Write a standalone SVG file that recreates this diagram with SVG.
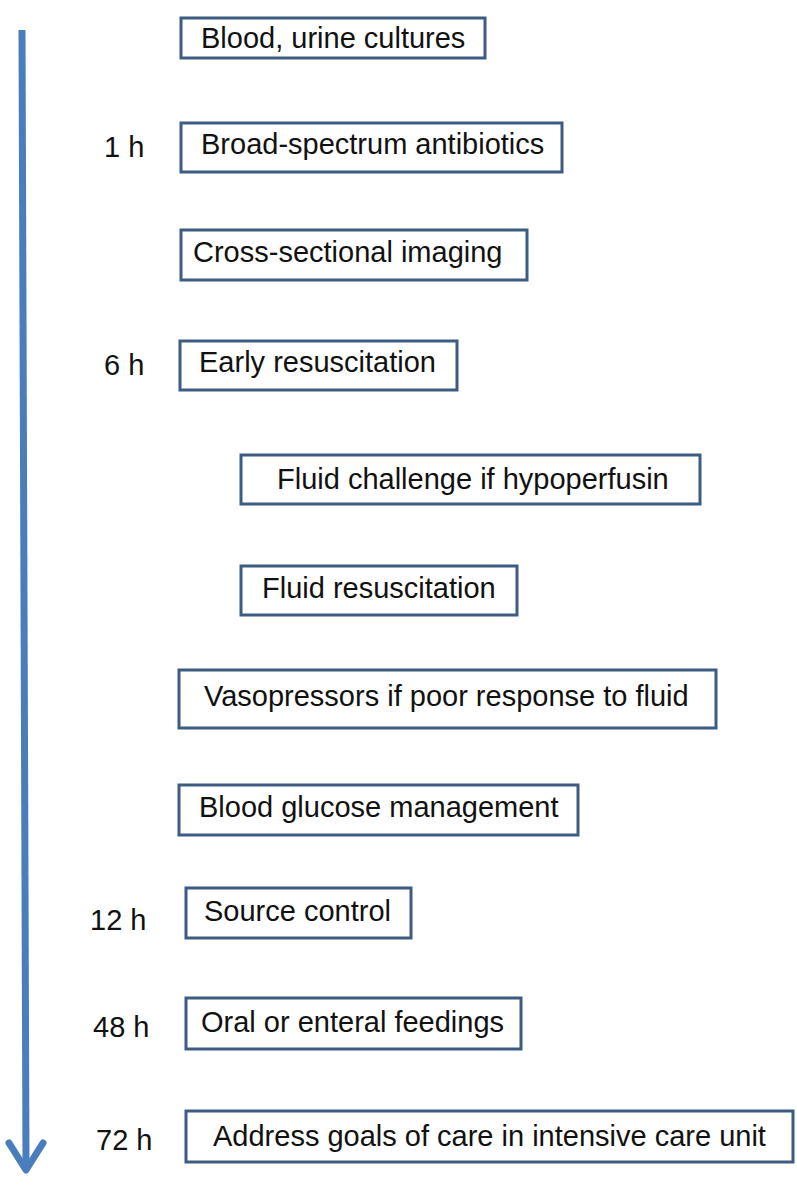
<svg xmlns="http://www.w3.org/2000/svg" width="797" height="1191" viewBox="0 0 797 1191">
<style>
.box{fill:#fff;stroke:#3d5c84;stroke-width:3}
.t{font-family:"Liberation Sans",Arial,sans-serif;font-size:29px;fill:#111}
</style>
<rect width="797" height="1191" fill="#fff"/>
<g id="connectors">
<line x1="22" y1="30" x2="26" y2="1166" stroke="#4a7dbc" stroke-width="7"/>
<polyline points="9,1143 26,1170 43,1143" fill="none" stroke="#4a7dbc" stroke-width="7" stroke-linecap="round" stroke-linejoin="round"/>
</g>
<g id="time-labels">
<text class="t" x="104" y="157">1 h</text>
<text class="t" x="104" y="375">6 h</text>
<text class="t" x="90" y="930">12 h</text>
<text class="t" x="93" y="1037">48 h</text>
<text class="t" x="96" y="1150">72 h</text>
</g>
<g id="n1"><rect class="box" x="181" y="18" width="304" height="40"/><text class="t" x="201" y="48">Blood, urine cultures</text></g>
<g id="n2"><rect class="box" x="181" y="123" width="381" height="49"/><text class="t" x="201" y="154">Broad-spectrum antibiotics</text></g>
<g id="n3"><rect class="box" x="181" y="230" width="346" height="50"/><text class="t" x="193" y="262">Cross-sectional imaging</text></g>
<g id="n4"><rect class="box" x="180" y="341" width="277" height="49"/><text class="t" x="199" y="372">Early resuscitation</text></g>
<g id="n5"><rect class="box" x="241" y="455" width="459" height="49"/><text class="t" x="277" y="489">Fluid challenge if hypoperfusin</text></g>
<g id="n6"><rect class="box" x="241" y="566" width="276" height="49"/><text class="t" x="262" y="598">Fluid resuscitation</text></g>
<g id="n7"><rect class="box" x="179" y="670" width="537" height="58"/><text class="t" x="204" y="706">Vasopressors if poor response to fluid</text></g>
<g id="n8"><rect class="box" x="179" y="785" width="399" height="50"/><text class="t" x="199" y="817">Blood glucose management</text></g>
<g id="n9"><rect class="box" x="186" y="888" width="225" height="50"/><text class="t" x="204" y="921">Source control</text></g>
<g id="n10"><rect class="box" x="186" y="998" width="335" height="51"/><text class="t" x="201" y="1032">Oral or enteral feedings</text></g>
<g id="n11"><rect class="box" x="186" y="1111" width="607" height="51"/><text class="t" x="213" y="1146">Address goals of care in intensive care unit</text></g>
</svg>
